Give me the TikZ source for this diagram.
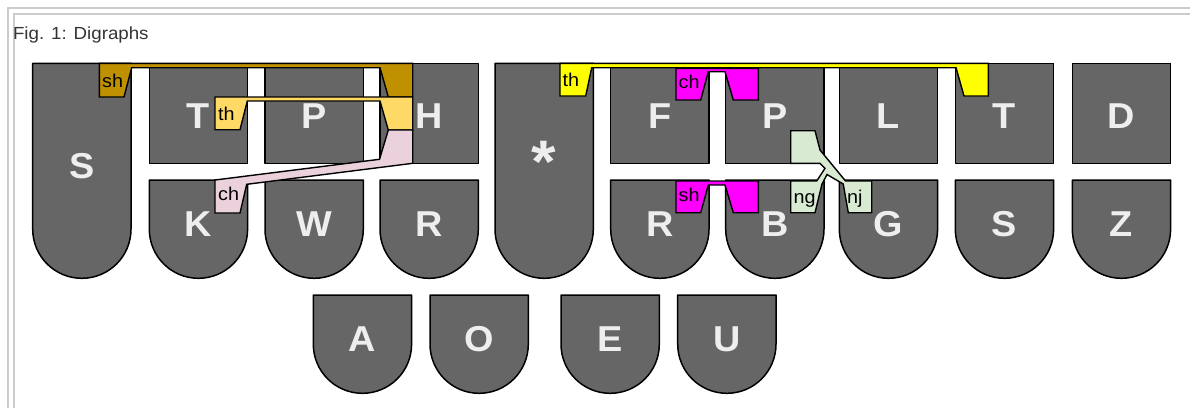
\documentclass[tikz,border=0pt]{standalone}
\usepackage{fontspec}
\setmainfont{Liberation Sans}
\newfontfamily\keyfnt[FakeStretch=1.05]{Liberation Sans}
\newfontfamily\labfnt[FakeStretch=1.07]{Liberation Sans}
\definecolor{keyfill}{HTML}{666666}
\definecolor{keytext}{HTML}{EEEEEE}
\definecolor{framegray}{HTML}{CCCCCC}
\definecolor{titlegray}{HTML}{333333}
\definecolor{shgold}{HTML}{BF9000}
\definecolor{thlight}{HTML}{FFD966}
\definecolor{chpink}{HTML}{EAD1DC}
\definecolor{thyellow}{HTML}{FFFF00}
\definecolor{magent}{HTML}{FF00FF}
\definecolor{nggreen}{HTML}{D9EAD3}
\tikzset{
  keyst/.style={fill=keyfill, draw=black, line width=1.5pt, line join=round},
  keylet/.style={text=keytext, font=\keyfnt\bfseries\fontsize{36}{36}\selectfont, anchor=base, inner sep=0pt},
  ovl/.style={draw=black, line width=1.4pt, line join=miter},
  lab/.style={anchor=base west, inner sep=0pt, font=\labfnt\fontsize{18.5}{18.5}\selectfont, text=black},
  framest/.style={draw=framegray, line width=2pt},
  titlest/.style={anchor=base west, inner sep=0pt, font=\labfnt\fontsize{17.5}{17.5}\selectfont, text=titlegray}
}
% top-row square key: x, name, letter
\newcommand\KeyTop[3]{%
  \draw[keyst] (#1,63.3) rectangle (#1+98.3,163.3);
  \node[keylet] (#2) at (#1+49.15,128.3) {#3};}
% round-bottom key: x, top y, straight length, name, letter, baseline
\newcommand\KeyRnd[6]{%
  \draw[keyst] (#1,#2) -- (#1+98.3,#2) -- (#1+98.3,#2+#3)
    .. controls (#1+98.3,#2+#3+27.15) and (#1+76.3,#2+#3+49.15) .. (#1+49.15,#2+#3+49.15)
    .. controls (#1+22,#2+#3+49.15) and (#1,#2+#3+27.15) .. (#1,#2+#3) -- cycle;
  \node[keylet] (#4) at (#1+49.15,#6) {#5};}
\begin{document}
\begin{tikzpicture}[x=1pt, y=-1pt]
\useasboundingbox (0,0) rectangle (1190,408);
% frame
\draw[framest] (8,408) -- (8,8) -- (1190,8);
\draw[framest] (14,408) -- (14,14) -- (1190,14);
\node[titlest] (fig) at (12.8,39.3) {Fig. 1: Digraphs};
% left bank
\KeyRnd{32.7}{63.3}{165.85}{kS}{S}{178}
\KeyTop{149.3}{kT}{T}
\KeyTop{265}{kP}{P}
\KeyTop{380}{kH}{H}
\KeyRnd{149.3}{180}{49.15}{kK}{K}{236.3}
\KeyRnd{265}{180}{49.15}{kW}{W}{236.3}
\KeyRnd{380}{180}{49.15}{kR}{R}{236.3}
% star
\draw[keyst] (495,63.3) -- (593.3,63.3) -- (593.3,229.15)
    .. controls (593.3,256.3) and (571.3,278.3) .. (544.15,278.3)
    .. controls (517,278.3) and (495,256.3) .. (495,229.15) -- cycle;
\node[text=keytext, font=\keyfnt\bfseries\fontsize{60}{60}\selectfont, anchor=base, inner sep=0pt] (kStar) at (543.5,182) {*};
% right bank
\KeyTop{610.7}{kF}{F}
\KeyTop{725.7}{kPr}{P}
\KeyTop{839.3}{kL}{L}
\KeyTop{955.3}{kTr}{T}
\KeyTop{1072.3}{kD}{D}
\KeyRnd{610.7}{180}{49.15}{kRr}{R}{236.3}
\KeyRnd{725.7}{180}{49.15}{kB}{B}{236.3}
\KeyRnd{839.3}{180}{49.15}{kG}{G}{236.3}
\KeyRnd{955.3}{180}{49.15}{kSr}{S}{236.3}
\KeyRnd{1072.3}{180}{49.15}{kZ}{Z}{236.3}
% vowels
\KeyRnd{313.3}{295}{49.15}{kA}{A}{351.7}
\KeyRnd{430}{295}{49.15}{kO}{O}{351.7}
\KeyRnd{561}{295}{49.15}{kE}{E}{351.7}
\KeyRnd{677.7}{295}{49.15}{kU}{U}{351.7}
% digraph overlays (left)
\draw[ovl, fill=shgold] (99.3,63.3) -- (412.7,63.3) -- (412.7,97) -- (388.3,97) -- (380,67.7)
  -- (131.7,67.7) -- (124,97) -- (99.3,97) -- cycle;
\draw[ovl, fill=thlight] (215,97) -- (412.7,97) -- (412.7,130) -- (388.3,130) -- (380,101)
  -- (247.3,101) -- (240,129.7) -- (215,129.7) -- cycle;
\draw[ovl, fill=chpink] (215,180) -- (379.5,159.3) -- (388.3,130) -- (412.7,130) -- (412.7,163.3)
  -- (246.7,184.3) -- (240,213) -- (215,213) -- cycle;
\node[lab] (lsh) at (102,87.3) {sh};
\node[lab] (lth) at (218,120) {th};
\node[lab] (lch) at (218,200.5) {ch};
% digraph overlays (right)
\draw[ovl, fill=thyellow] (560,63.3) -- (988.3,63.3) -- (988.3,96) -- (964,96) -- (956,67.7)
  -- (591.7,67.7) -- (585.7,96) -- (560,96) -- cycle;
\draw[ovl, fill=magent] (676,68.3) -- (758.3,68.3) -- (758.3,100) -- (733.3,100) -- (725,71.7)
  -- (708.3,71.7) -- (700.7,100) -- (676,100) -- cycle;
\draw[ovl, fill=magent] (676,181) -- (758.3,181) -- (758.3,212.7) -- (733.3,212.7) -- (725,185)
  -- (708.3,185) -- (700.7,212.7) -- (676,212.7) -- cycle;
\draw[ovl, fill=nggreen] (790.7,130.7) -- (815,130.7) -- (820,150) -- (845.5,181) -- (871.7,181)
  -- (871.7,212.7) -- (848.3,212.7) -- (843.2,184) -- (827,174.5) -- (822,184) -- (815,212.7)
  -- (790.7,212.7) -- (790.7,181) -- (816.7,181) -- (825,168.3) -- (820,163.3) -- (790.7,163.3) -- cycle;
\node[lab] (rth) at (562.5,86.7) {th};
\node[lab] (rch) at (678.5,88.3) {ch};
\node[lab] (rsh) at (678.5,201.5) {sh};
\node[lab] (rng) at (793.5,203) {ng};
\node[lab] (rnj) at (847,203) {nj};
\end{tikzpicture}
\end{document}
